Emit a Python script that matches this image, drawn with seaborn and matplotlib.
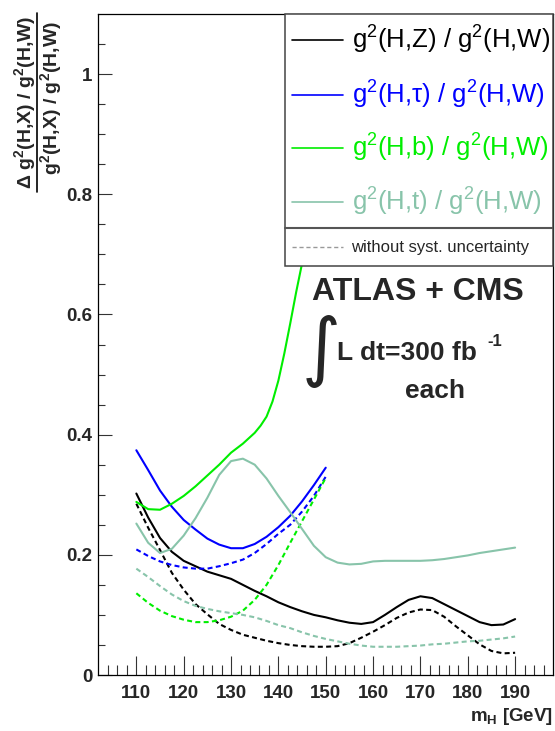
import matplotlib
matplotlib.use("Agg")
import matplotlib.pyplot as plt
import seaborn as sns
import pandas as pd
from matplotlib.patches import Rectangle
from matplotlib.lines import Line2D
from matplotlib.ticker import FixedLocator, FixedFormatter

# ---------------- data ----------------
mass_full = [110, 112.5, 115, 117.5, 120, 122.5, 125, 127.5, 130, 132.5, 135,
             137.5, 140, 142.5, 145, 147.5, 150, 152.5, 155, 157.5, 160, 162.5,
             165, 167.5, 170, 172.5, 175, 177.5, 180, 182.5, 185, 187.5, 190]
mass_low = [110, 112.5, 115, 117.5, 120, 122.5, 125, 127.5, 130, 132.5, 135,
            137.5, 140, 142.5, 145, 147.5, 150]
mass_b = [110, 112.5, 115, 117.5, 120, 122.5, 125, 127.5, 130, 132.5, 135,
          136.25, 137.5, 138.75, 140, 141.25, 142.5, 143.75, 145, 147.5, 150]

hz_syst = [0.302, 0.262, 0.228, 0.205, 0.190, 0.181, 0.172, 0.166, 0.160, 0.150,
           0.140, 0.131, 0.121, 0.113, 0.106, 0.100, 0.096, 0.091, 0.087, 0.085,
           0.088, 0.100, 0.113, 0.125, 0.131, 0.128, 0.118, 0.108, 0.098, 0.088,
           0.083, 0.084, 0.093]
hz_nosyst = [0.285, 0.245, 0.208, 0.170, 0.142, 0.118, 0.101, 0.085, 0.075, 0.067,
             0.062, 0.057, 0.053, 0.050, 0.048, 0.047, 0.047, 0.048, 0.053, 0.062,
             0.072, 0.083, 0.095, 0.104, 0.109, 0.108, 0.097, 0.081, 0.066, 0.051,
             0.040, 0.036, 0.037]
htau_syst = [0.374, 0.341, 0.307, 0.280, 0.258, 0.242, 0.227, 0.217, 0.211, 0.211,
             0.218, 0.230, 0.246, 0.265, 0.289, 0.316, 0.345]
htau_nosyst = [0.209, 0.198, 0.189, 0.183, 0.179, 0.177, 0.177, 0.181, 0.186, 0.192,
               0.203, 0.218, 0.235, 0.250, 0.272, 0.298, 0.330]
hb_syst = [0.288, 0.276, 0.275, 0.285, 0.298, 0.314, 0.332, 0.350, 0.370, 0.385,
           0.403, 0.415, 0.430, 0.455, 0.490, 0.535, 0.585, 0.637, 0.685, 0.850, 1.050]
hb_nosyst = [0.136, 0.120, 0.107, 0.098, 0.092, 0.088, 0.088, 0.091, 0.097, 0.107,
             0.125, 0.150, 0.183, 0.220, 0.256, 0.292, 0.328]
ht_syst = [0.252, 0.220, 0.203, 0.210, 0.232, 0.261, 0.295, 0.333, 0.356, 0.360,
           0.350, 0.327, 0.298, 0.271, 0.243, 0.215, 0.196, 0.187, 0.184, 0.185,
           0.189, 0.190, 0.190, 0.190, 0.190, 0.191, 0.193, 0.196, 0.199, 0.203,
           0.206, 0.209, 0.212]
ht_nosyst = [0.177, 0.163, 0.148, 0.134, 0.123, 0.115, 0.110, 0.106, 0.103, 0.100,
             0.096, 0.090, 0.083, 0.078, 0.071, 0.065, 0.060, 0.056, 0.052, 0.049,
             0.047, 0.047, 0.047, 0.048, 0.049, 0.051, 0.052, 0.054, 0.056, 0.057,
             0.059, 0.061, 0.064]

x_ticks = [110, 120, 130, 140, 150, 160, 170, 180, 190]
x_tick_labels = ["110", "120", "130", "140", "150", "160", "170", "180", "190"]
y_ticks = [0, 0.2, 0.4, 0.6, 0.8, 1.0]
y_tick_labels = ["0", "0.2", "0.4", "0.6", "0.8", "1"]

legend_labels = [r"$\mathrm{g^{2}(H{,}Z)\ /\ g^{2}(H{,}W)}$",
                 r"$\mathrm{g^{2}(H{,}τ)\ /\ g^{2}(H{,}W)}$",
                 r"$\mathrm{g^{2}(H{,}b)\ /\ g^{2}(H{,}W)}$",
                 r"$\mathrm{g^{2}(H{,}t)\ /\ g^{2}(H{,}W)}$"]
colors = ["black", "#0000FF", "#00EE00", "#88C4AA"]

# ---------------- style ----------------
sns.set_style("ticks")
plt.rcParams["font.family"] = ["Liberation Sans", "DejaVu Sans"]
plt.rcParams["mathtext.fontset"] = "custom"
plt.rcParams["mathtext.rm"] = "Liberation Sans"
plt.rcParams["mathtext.it"] = "Liberation Sans:italic"
plt.rcParams["mathtext.bf"] = "Liberation Sans:bold"
plt.rcParams["mathtext.sf"] = "Liberation Sans"

fig = plt.figure(figsize=(5.55, 7.31), dpi=100)
ax = fig.add_axes([98 / 555, 56 / 731, 455 / 555, 661 / 731])

dash = (0, (2.4, 1.6))
series = [
    (mass_full, hz_syst, colors[0], "-"),
    (mass_full, hz_nosyst, colors[0], dash),
    (mass_low, htau_syst, colors[1], "-"),
    (mass_low, htau_nosyst, colors[1], dash),
    (mass_b, hb_syst, colors[2], "-"),
    (mass_low, hb_nosyst, colors[2], dash),
    (mass_full, ht_syst, colors[3], "-"),
    (mass_full, ht_nosyst, colors[3], dash),
]
for xs, ys, c, ls in series:
    df = pd.DataFrame({"m": xs, "v": ys})
    sns.lineplot(data=df, x="m", y="v", color=c, linewidth=1.5, linestyle=ls,
                 sort=False, ax=ax, zorder=3, solid_joinstyle="round")

ax.set_xlim(101.9, 198)
ax.set_ylim(0, 1.1)
ax.set_xlabel("")
ax.set_ylabel("")

ax.xaxis.set_major_locator(FixedLocator(x_ticks))
ax.xaxis.set_major_formatter(FixedFormatter(x_tick_labels))
ax.xaxis.set_minor_locator(FixedLocator(list(range(104, 198, 2))))
ax.yaxis.set_major_locator(FixedLocator(y_ticks))
ax.yaxis.set_major_formatter(FixedFormatter(y_tick_labels))
ax.yaxis.set_minor_locator(FixedLocator([i * 0.05 for i in range(1, 22)]))

ax.tick_params(axis="x", which="major", direction="in", length=13.5, width=0.8,
               color="#333333", pad=7, labelsize=13.5)
ax.tick_params(axis="x", which="minor", direction="in", length=7, width=0.8,
               color="#333333")
ax.tick_params(axis="y", which="major", direction="in", length=10, width=0.8,
               color="#333333", pad=4, labelsize=13.5)
ax.tick_params(axis="y", which="minor", direction="in", length=4.8, width=0.8,
               color="#333333")
for lab in ax.get_xticklabels() + ax.get_yticklabels():
    lab.set_fontweight("bold")

for s in ax.spines.values():
    s.set_visible(True)
    s.set_color("black")
    s.set_linewidth(0.9)

# ---------------- legend box ----------------
lx0, ly0 = 0.411, 0.6188
ax.add_patch(Rectangle((lx0, ly0), 1 - lx0, 1 - ly0, transform=ax.transAxes,
                       facecolor="white", edgecolor="#444444", linewidth=1.1,
                       zorder=10, clip_on=False))
ax.add_line(Line2D([lx0, 1.0], [0.676, 0.676], transform=ax.transAxes,
                   color="#555555", linewidth=1.5, zorder=11))
entry_y = [0.9607, 0.8775, 0.7973, 0.7156]
for yy, lab, c in zip(entry_y, legend_labels, colors):
    ax.add_line(Line2D([0.4264, 0.5385], [yy, yy], transform=ax.transAxes,
                       color=c, linewidth=1.2, zorder=11))
    ax.text(0.558, yy, lab, transform=ax.transAxes, color=c, fontsize=18.5,
            ha="left", va="center", zorder=12)
ax.add_line(Line2D([0.4264, 0.5385], [0.6475, 0.6475], transform=ax.transAxes,
                   color="#999999", linewidth=1.0, linestyle=(0, (3, 2)), zorder=11))
ax.text(0.5554, 0.6475, "without syst. uncertainty", transform=ax.transAxes,
        fontsize=12, ha="left", va="center", zorder=12)

# ---------------- annotations ----------------
ax.text(0.4697, 0.5799, "ATLAS + CMS", transform=ax.transAxes, fontsize=23,
        fontweight="bold", ha="left", va="center")
ax.text(0.490, 0.490, "\u222b", transform=ax.transAxes, fontsize=54,
        family="DejaVu Sans", ha="center", va="center")
ax.text(0.5246, 0.487, "L dt=300 fb", transform=ax.transAxes, fontsize=19,
        fontweight="bold", ha="left", va="center")
ax.text(0.855, 0.504, "-1", transform=ax.transAxes, fontsize=12,
        fontweight="bold", ha="left", va="center")
ax.text(0.6747, 0.430, "each", transform=ax.transAxes, fontsize=19,
        fontweight="bold", ha="left", va="center")

# x label
ax.text(1.0, -0.0635, r"$\mathbf{m_{H}}$ [GeV]", transform=ax.transAxes,
        fontsize=13.5, fontweight="bold", ha="right", va="center")

# y label as a fraction
fig.text(25 / 555, (731 - 102.5) / 731,
         r"$\mathbf{\Delta\ g^{2}(H{,}X)\ /\ g^{2}(H{,}W)}$",
         rotation=90, fontsize=14, ha="center", va="center")
fig.text(51 / 555, (731 - 98.5) / 731,
         r"$\mathbf{g^{2}(H{,}X)\ /\ g^{2}(H{,}W)}$",
         rotation=90, fontsize=14, ha="center", va="center")
fig.add_artist(Line2D([36.5 / 555, 36.5 / 555], [(731 - 13) / 731, (731 - 192) / 731],
                      transform=fig.transFigure, color="black", linewidth=1.2))

fig.savefig("out.png", dpi=100)
